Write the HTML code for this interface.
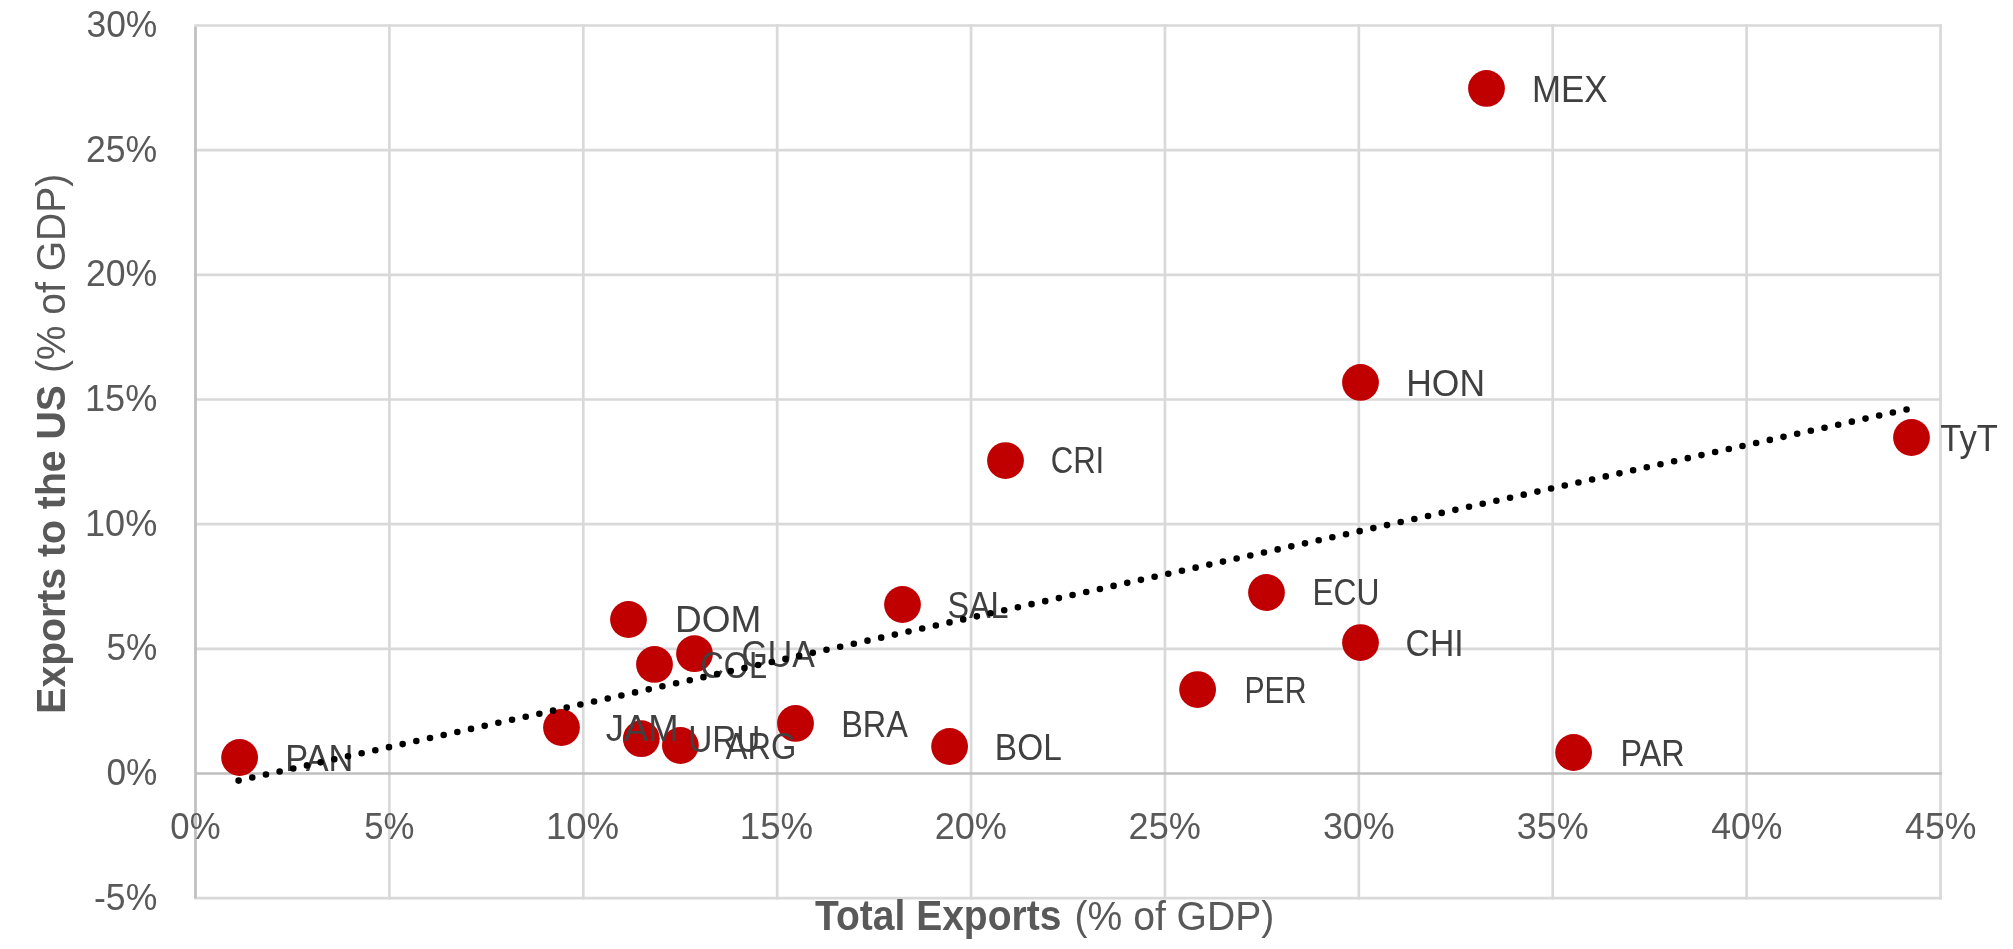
<!DOCTYPE html>
<html><head><meta charset="utf-8"><style>
html,body{margin:0;padding:0;background:#fff;width:2013px;height:949px;overflow:hidden}
svg{display:block;font-family:"Liberation Sans",sans-serif;will-change:transform}
</style></head><body>
<svg width="2013" height="949" viewBox="0 0 2013 949">
<rect width="2013" height="949" fill="#fff"/>
<line x1="389.39" y1="24.15" x2="389.39" y2="899.52" stroke="#D9D9D9" stroke-width="2.7"/>
<line x1="583.28" y1="24.15" x2="583.28" y2="899.52" stroke="#D9D9D9" stroke-width="2.7"/>
<line x1="777.17" y1="24.15" x2="777.17" y2="899.52" stroke="#D9D9D9" stroke-width="2.7"/>
<line x1="971.06" y1="24.15" x2="971.06" y2="899.52" stroke="#D9D9D9" stroke-width="2.7"/>
<line x1="1164.95" y1="24.15" x2="1164.95" y2="899.52" stroke="#D9D9D9" stroke-width="2.7"/>
<line x1="1358.84" y1="24.15" x2="1358.84" y2="899.52" stroke="#D9D9D9" stroke-width="2.7"/>
<line x1="1552.73" y1="24.15" x2="1552.73" y2="899.52" stroke="#D9D9D9" stroke-width="2.7"/>
<line x1="1746.62" y1="24.15" x2="1746.62" y2="899.52" stroke="#D9D9D9" stroke-width="2.7"/>
<line x1="1940.51" y1="24.15" x2="1940.51" y2="899.52" stroke="#D9D9D9" stroke-width="2.7"/>
<line x1="194.15" y1="25.50" x2="1941.86" y2="25.50" stroke="#D9D9D9" stroke-width="2.7"/>
<line x1="194.15" y1="150.17" x2="1941.86" y2="150.17" stroke="#D9D9D9" stroke-width="2.7"/>
<line x1="194.15" y1="274.83" x2="1941.86" y2="274.83" stroke="#D9D9D9" stroke-width="2.7"/>
<line x1="194.15" y1="399.50" x2="1941.86" y2="399.50" stroke="#D9D9D9" stroke-width="2.7"/>
<line x1="194.15" y1="524.17" x2="1941.86" y2="524.17" stroke="#D9D9D9" stroke-width="2.7"/>
<line x1="194.15" y1="648.84" x2="1941.86" y2="648.84" stroke="#D9D9D9" stroke-width="2.7"/>
<line x1="194.15" y1="898.17" x2="1941.86" y2="898.17" stroke="#D9D9D9" stroke-width="2.7"/>
<line x1="195.50" y1="773.50" x2="1941.86" y2="773.50" stroke="#BFBFBF" stroke-width="2.7"/>
<line x1="195.50" y1="26.85" x2="195.50" y2="898.17" stroke="#BFBFBF" stroke-width="2.7"/>
<text transform="translate(87.80 36.84) scale(0.9524 1)" x="-1.41" y="0" font-size="37.15" font-weight="normal" fill="#595959">30%</text>
<text transform="translate(87.80 161.50) scale(0.9585 1)" x="-1.87" y="0" font-size="37.15" font-weight="normal" fill="#595959">25%</text>
<text transform="translate(87.80 286.17) scale(0.9585 1)" x="-1.87" y="0" font-size="37.15" font-weight="normal" fill="#595959">20%</text>
<text transform="translate(87.80 410.84) scale(0.9656 1)" x="-2.85" y="0" font-size="37.38" font-weight="normal" fill="#595959">15%</text>
<text transform="translate(87.80 535.51) scale(0.9716 1)" x="-2.83" y="0" font-size="37.15" font-weight="normal" fill="#595959">10%</text>
<text transform="translate(107.80 660.17) scale(0.9415 1)" x="-1.50" y="0" font-size="37.38" font-weight="normal" fill="#595959">5%</text>
<text transform="translate(107.80 784.84) scale(0.9467 1)" x="-1.45" y="0" font-size="37.15" font-weight="normal" fill="#595959">0%</text>
<text transform="translate(95.60 909.50) scale(0.9515 1)" x="-1.66" y="0" font-size="37.38" font-weight="normal" fill="#595959">-5%</text>
<text transform="translate(171.70 839.13) scale(0.9244 1)" x="-1.47" y="0" font-size="37.57" font-weight="normal" fill="#595959">0%</text>
<text transform="translate(365.59 839.13) scale(0.9193 1)" x="-1.51" y="0" font-size="37.80" font-weight="normal" fill="#595959">5%</text>
<text transform="translate(548.68 839.13) scale(0.9747 1)" x="-2.86" y="0" font-size="37.57" font-weight="normal" fill="#595959">10%</text>
<text transform="translate(742.57 839.13) scale(0.9687 1)" x="-2.88" y="0" font-size="37.80" font-weight="normal" fill="#595959">15%</text>
<text transform="translate(936.46 839.13) scale(0.9616 1)" x="-1.89" y="0" font-size="37.57" font-weight="normal" fill="#595959">20%</text>
<text transform="translate(1130.35 839.13) scale(0.9616 1)" x="-1.89" y="0" font-size="37.57" font-weight="normal" fill="#595959">25%</text>
<text transform="translate(1324.24 839.13) scale(0.9555 1)" x="-1.43" y="0" font-size="37.57" font-weight="normal" fill="#595959">30%</text>
<text transform="translate(1518.13 839.13) scale(0.9555 1)" x="-1.43" y="0" font-size="37.57" font-weight="normal" fill="#595959">35%</text>
<text transform="translate(1712.02 839.13) scale(0.9480 1)" x="-0.86" y="0" font-size="37.57" font-weight="normal" fill="#595959">40%</text>
<text transform="translate(1905.91 839.13) scale(0.9421 1)" x="-0.87" y="0" font-size="37.80" font-weight="normal" fill="#595959">45%</text>
<circle cx="1486.50" cy="88.40" r="18.4" fill="#C00000"/>
<circle cx="1360.50" cy="382.40" r="18.4" fill="#C00000"/>
<circle cx="1911.50" cy="437.50" r="18.4" fill="#C00000"/>
<circle cx="1005.50" cy="460.60" r="18.4" fill="#C00000"/>
<circle cx="1266.50" cy="592.50" r="18.4" fill="#C00000"/>
<circle cx="1360.50" cy="642.60" r="18.4" fill="#C00000"/>
<circle cx="902.50" cy="604.50" r="18.4" fill="#C00000"/>
<circle cx="628.50" cy="619.50" r="18.4" fill="#C00000"/>
<circle cx="694.50" cy="653.70" r="18.4" fill="#C00000"/>
<circle cx="654.50" cy="664.40" r="18.4" fill="#C00000"/>
<circle cx="1197.60" cy="689.60" r="18.4" fill="#C00000"/>
<circle cx="795.50" cy="723.40" r="18.4" fill="#C00000"/>
<circle cx="561.50" cy="727.50" r="18.4" fill="#C00000"/>
<circle cx="641.30" cy="738.70" r="18.4" fill="#C00000"/>
<circle cx="680.40" cy="745.50" r="18.4" fill="#C00000"/>
<circle cx="949.60" cy="746.50" r="18.4" fill="#C00000"/>
<circle cx="1573.60" cy="752.50" r="18.4" fill="#C00000"/>
<circle cx="239.60" cy="757.50" r="18.4" fill="#C00000"/>
<text transform="translate(1534.90 102.00) scale(0.9339 1)" x="-3.06" y="0" font-size="37.36" font-weight="normal" fill="#404040">MEX</text>
<text transform="translate(1409.10 395.60) scale(0.9493 1)" x="-3.06" y="0" font-size="37.36" font-weight="normal" fill="#404040">HON</text>
<text transform="translate(1941.00 451.30) scale(0.9247 1)" x="-0.84" y="0" font-size="37.36" font-weight="normal" fill="#404040">TyT</text>
<text transform="translate(1052.20 473.30) scale(0.8341 1)" x="-1.90" y="0" font-size="37.36" font-weight="normal" fill="#404040">CRI</text>
<text transform="translate(1315.00 605.30) scale(0.8516 1)" x="-3.06" y="0" font-size="37.36" font-weight="normal" fill="#404040">ECU</text>
<text transform="translate(1407.30 656.10) scale(0.9002 1)" x="-1.90" y="0" font-size="37.36" font-weight="normal" fill="#404040">CHI</text>
<text transform="translate(949.00 617.70) scale(0.8645 1)" x="-1.70" y="0" font-size="37.36" font-weight="normal" fill="#404040">SAL</text>
<text transform="translate(678.00 632.30) scale(0.9911 1)" x="-3.06" y="0" font-size="37.36" font-weight="normal" fill="#404040">DOM</text>
<text transform="translate(743.20 666.90) scale(0.9051 1)" x="-1.88" y="0" font-size="37.36" font-weight="normal" fill="#404040">GUA</text>
<text transform="translate(702.10 677.60) scale(0.8660 1)" x="-1.90" y="0" font-size="37.36" font-weight="normal" fill="#404040">COL</text>
<text transform="translate(1246.90 702.90) scale(0.8082 1)" x="-3.06" y="0" font-size="37.36" font-weight="normal" fill="#404040">PER</text>
<text transform="translate(843.90 737.00) scale(0.8674 1)" x="-3.06" y="0" font-size="37.36" font-weight="normal" fill="#404040">BRA</text>
<text transform="translate(606.40 740.70) scale(0.9752 1)" x="-0.58" y="0" font-size="37.36" font-weight="normal" fill="#404040">JAM</text>
<text transform="translate(690.70 751.70) scale(0.8927 1)" x="-2.88" y="0" font-size="37.36" font-weight="normal" fill="#404040">URU</text>
<text transform="translate(725.90 758.80) scale(0.8721 1)" x="-0.07" y="0" font-size="37.36" font-weight="normal" fill="#404040">ARG</text>
<text transform="translate(997.60 759.60) scale(0.8943 1)" x="-3.06" y="0" font-size="37.36" font-weight="normal" fill="#404040">BOL</text>
<text transform="translate(1623.10 766.10) scale(0.8665 1)" x="-3.06" y="0" font-size="37.36" font-weight="normal" fill="#404040">PAR</text>
<text transform="translate(288.10 771.00) scale(0.9194 1)" x="-3.06" y="0" font-size="37.36" font-weight="normal" fill="#404040">PAN</text>
<line x1="238.60" y1="780.60" x2="1911.50" y2="408.38" stroke="#000" stroke-width="6.6" stroke-linecap="round" stroke-dasharray="0 14.006"/>
<text transform="translate(815.40 929.70) scale(0.9391 1)" x="-0.47" y="0" font-size="41.57" font-weight="bold" fill="#595959">Total Exports</text>
<text transform="translate(1077.00 929.70) scale(0.9400 1)" x="-2.58" y="0" font-size="41.57" font-weight="normal" fill="#595959">(% of GDP)</text>
<text transform="translate(64.70 711.10) rotate(-90) scale(0.9426 1)" x="-2.78" y="0" font-size="41.57" font-weight="bold" fill="#595959">Exports to the US</text>
<text transform="translate(64.70 370.70) rotate(-90) scale(0.9381 1)" x="-2.58" y="0" font-size="41.57" font-weight="normal" fill="#595959">(% of GDP)</text>
</svg>
</body></html>
